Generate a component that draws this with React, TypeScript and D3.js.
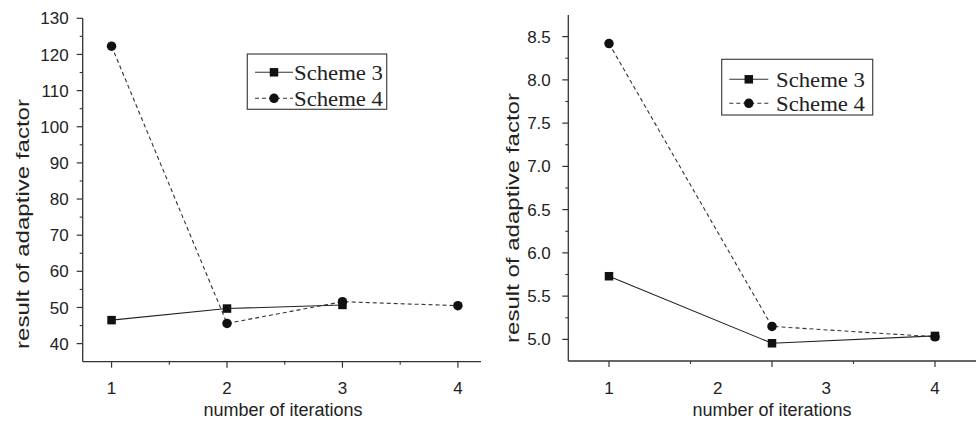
import React from "react";
import * as d3 from "d3";

// values
const xTickLabels = ["1", "2", "3", "4"];
const leftIter3 = [1, 2, 3];
const leftScheme3 = [46.5, 49.7, 50.7];
const leftIter4 = [1, 2, 3, 4];
const leftScheme4 = [122.3, 45.6, 51.6, 50.5];
const leftYTicks = [40, 50, 60, 70, 80, 90, 100, 110, 120, 130];

const rightIter = [1, 2.5, 4];
const rightScheme3 = [5.73, 4.955, 5.04];
const rightScheme4 = [8.42, 5.15, 5.03];
const rightYTicks = [5.0, 5.5, 6.0, 6.5, 7.0, 7.5, 8.0, 8.5];

const legendNames = ["Scheme 3", "Scheme 4"];

const sans = "'Liberation Sans', Arial, sans-serif";
const serif = "'Liberation Serif', 'DejaVu Serif', serif";
const ink = "#222";

type PanelProps = {
  x: d3.ScaleLinear<number, number>;
  y: d3.ScaleLinear<number, number>;
  axisX: [number, number];
  yTicks: number[];
  yMinor: number[];
  yFormat: (v: number) => string;
  yLabelGap: number;
  xMajor: number[];
  xMinor: number[];
  s3: [number, number][];
  s4: [number, number][];
  yTitle: [number, number];
  xTitleX: number;
  legend: { x: number; y: number; w: number; h: number; rows: number[]; l0: number; l1: number; tx: number };
  markerSize: number;
};

const Panel = (p: PanelProps) => {
  const [y0, y1] = p.y.range();
  const x0 = p.axisX[0];
  const line = d3
    .line<[number, number]>()
    .x((d) => p.x(d[0]))
    .y((d) => p.y(d[1]));
  const ms = p.markerSize;
  return (
    <g>
      {/* y axis */}
      <line x1={x0} x2={x0} y1={y0} y2={y1} stroke="#333" strokeWidth={1.3} />
      {p.yTicks.map((t) => (
        <g key={"yt" + t}>
          <line x1={x0 - 6} x2={x0} y1={p.y(t)} y2={p.y(t)} stroke="#333" strokeWidth={1.2} />
          <text x={x0 - p.yLabelGap} y={p.y(t)} dy="0.36em" textAnchor="end" fontFamily={sans} fontSize={17} fill={ink}>
            {p.yFormat(t)}
          </text>
        </g>
      ))}
      {p.yMinor.map((t) => (
        <line key={"ym" + t} x1={x0 - 3} x2={x0} y1={p.y(t)} y2={p.y(t)} stroke="#333" strokeWidth={1.1} />
      ))}
      {/* x axis */}
      <line x1={p.axisX[0]} x2={p.axisX[1]} y1={y0} y2={y0} stroke="#333" strokeWidth={1.3} />
      {p.xMajor.map((t) => (
        <line key={"xt" + t} x1={p.x(t)} x2={p.x(t)} y1={y0} y2={y0 + 6} stroke="#333" strokeWidth={1.2} />
      ))}
      {p.xMinor.map((t) => (
        <line key={"xm" + t} x1={p.x(t)} x2={p.x(t)} y1={y0} y2={y0 + 3} stroke="#333" strokeWidth={1.1} />
      ))}
      {xTickLabels.map((l, i) => (
        <text key={"xl" + l} x={p.x(i + 1)} y={393.5} textAnchor="middle" fontFamily={sans} fontSize={17} fill={ink}>
          {l}
        </text>
      ))}
      <text x={p.xTitleX} y={416} textAnchor="middle" fontFamily={sans} fontSize={18} fill={ink}>
        number of iterations
      </text>
      <text
        transform={`translate(${p.yTitle[0]},${p.yTitle[1]}) rotate(-90)`}
        dy="0.36em"
        textAnchor="middle"
        fontFamily={sans}
        fontSize={17.5}
        fill={ink}
        textLength={250}
        lengthAdjust="spacingAndGlyphs"
      >
        result of adaptive factor
      </text>

      {/* series */}
      <path d={line(p.s3) || ""} fill="none" stroke="#222" strokeWidth={1.1} />
      <path d={line(p.s4) || ""} fill="none" stroke="#333" strokeWidth={1.1} strokeDasharray="4,3" />
      {p.s3.map((d, i) => (
        <rect key={"q" + i} x={p.x(d[0]) - ms / 2} y={p.y(d[1]) - ms / 2} width={ms} height={ms} fill="#111" />
      ))}
      {p.s4.map((d, i) => (
        <circle key={"c" + i} cx={p.x(d[0])} cy={p.y(d[1])} r={ms / 2 + 0.5} fill="#111" />
      ))}

      {/* legend */}
      <rect x={p.legend.x} y={p.legend.y} width={p.legend.w} height={p.legend.h} fill="#fff" stroke="#444" strokeWidth={1.2} />
      {legendNames.map((n, i) => {
        const ry = p.legend.rows[i];
        const mx = (p.legend.l0 + p.legend.l1) / 2;
        return (
          <g key={n}>
            <line
              x1={p.legend.l0}
              x2={p.legend.l1}
              y1={ry}
              y2={ry}
              stroke="#333"
              strokeWidth={1.1}
              strokeDasharray={i === 1 ? "4,3" : undefined}
            />
            {i === 0 ? (
              <rect x={mx - ms / 2} y={ry - ms / 2} width={ms} height={ms} fill="#111" />
            ) : (
              <circle cx={mx} cy={ry} r={ms / 2 + 0.5} fill="#111" />
            )}
            <text
              x={p.legend.tx}
              y={ry}
              dy="0.35em"
              fontFamily={serif}
              fontSize={22}
              fill={ink}
              textLength={89}
              lengthAdjust="spacingAndGlyphs"
            >
              {n}
            </text>
          </g>
        );
      })}
    </g>
  );
};

const App = () => {
  const lx = d3.scaleLinear([0.75, 4.2], [82.7, 481]);
  const ly = d3.scaleLinear([35, 130], [361.7, 18.3]);
  const rx = d3.scaleLinear([1, 4], [609, 935]);
  const ry = d3.scaleLinear([4.75, 8.75], [361, 15]);

  const leftMinor = d3.range(45, 130, 10);
  const rightMinor = d3.range(5.25, 8.75, 0.5);

  return (
    <svg
      width={976}
      height={423}
      style={{ position: "absolute", left: 0, top: 0, background: "#fff" }}
    >
      <Panel
        x={lx}
        y={ly}
        axisX={[82.7, 481]}
        yTicks={leftYTicks}
        yMinor={leftMinor}
        yFormat={(v) => String(v)}
        yLabelGap={14}
        xMajor={[1, 2, 3, 4]}
        xMinor={[1.5, 2.5, 3.5]}
        s3={leftIter3.map((v, i) => [v, leftScheme3[i]] as [number, number])}
        s4={leftIter4.map((v, i) => [v, leftScheme4[i]] as [number, number])}
        yTitle={[23, 224]}
        xTitleX={283}
        legend={{ x: 247.3, y: 54, w: 139.4, h: 55.3, rows: [72.3, 98.3], l0: 255, l1: 293, tx: 294 }}
        markerSize={8.5}
      />
      <Panel
        x={rx}
        y={ry}
        axisX={[568.3, 976]}
        yTicks={rightYTicks}
        yMinor={rightMinor}
        yFormat={(v) => d3.format(".1f")(v)}
        yLabelGap={17.5}
        xMajor={[1, 2.5, 4]}
        xMinor={[1.75, 3.25]}
        s3={rightIter.map((v, i) => [v, rightScheme3[i]] as [number, number])}
        s4={rightIter.map((v, i) => [v, rightScheme4[i]] as [number, number])}
        yTitle={[513, 218]}
        xTitleX={772}
        legend={{ x: 721.7, y: 59.3, w: 151, h: 55.7, rows: [79.3, 103.3], l0: 729.3, l1: 768.3, tx: 776 }}
        markerSize={8.5}
      />
    </svg>
  );
};

export default App;
